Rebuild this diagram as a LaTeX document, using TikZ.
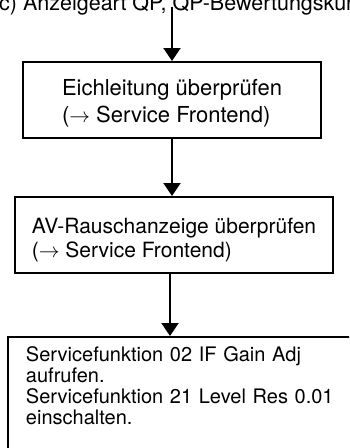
\documentclass[tikz,border=0pt]{standalone}
\usepackage{fontspec}
\setmainfont{TeX Gyre Heros}
\usetikzlibrary{arrows.meta}
\begin{document}
\begin{tikzpicture}[x=1pt,y=-1pt,
  box/.style={draw=black,line width=2pt,align=left,anchor=north west,inner ysep=0pt},
  arr/.style={line width=2pt,-{Triangle[length=13pt,width=17pt]}}]
\useasboundingbox (0,0) rectangle (349,448);
\clip (0,0) rectangle (349,448);
\node[anchor=base west,inner sep=0pt,font=\fontsize{21.5}{24}\selectfont] (title) at (-1,10) {c) Anzeigeart QP, QP-Bewertungskurve};
\coordinate (start) at (172,7);
\node[box,minimum width=298pt,minimum height=76pt,
  font=\fontsize{22}{27}\selectfont] (eich) at (22,61)
  {\rule{0pt}{22pt}Eichleitung überprüfen\\($\rightarrow$ Service Frontend)};
\node[box,minimum width=318pt,minimum height=76pt,
  font=\fontsize{21}{24}\selectfont] (av) at (14,196)
  {\rule{0pt}{25pt}AV-Rauschanzeige überprüfen\\($\rightarrow$ Service Frontend)};
\node[box,minimum width=400pt,text width=364pt,inner xsep=18pt,inner ysep=10pt,
  font=\fontsize{20}{20.7}\selectfont] (svc) at (7,336)
  {Servicefunktion 02 IF Gain Adj\\aufrufen.\\Servicefunktion 21 Level Res 0.01\\einschalten.\rule[-35pt]{0pt}{35pt}};
% arrows
\draw[arr] (start) -- (start |- eich.north);
\draw[arr] (eich.south) -- (eich.south |- av.north);
\draw[arr] ([xshift=-4pt]av.south) -- ([xshift=-4pt]av.south |- svc.north);
\end{tikzpicture}
\end{document}
